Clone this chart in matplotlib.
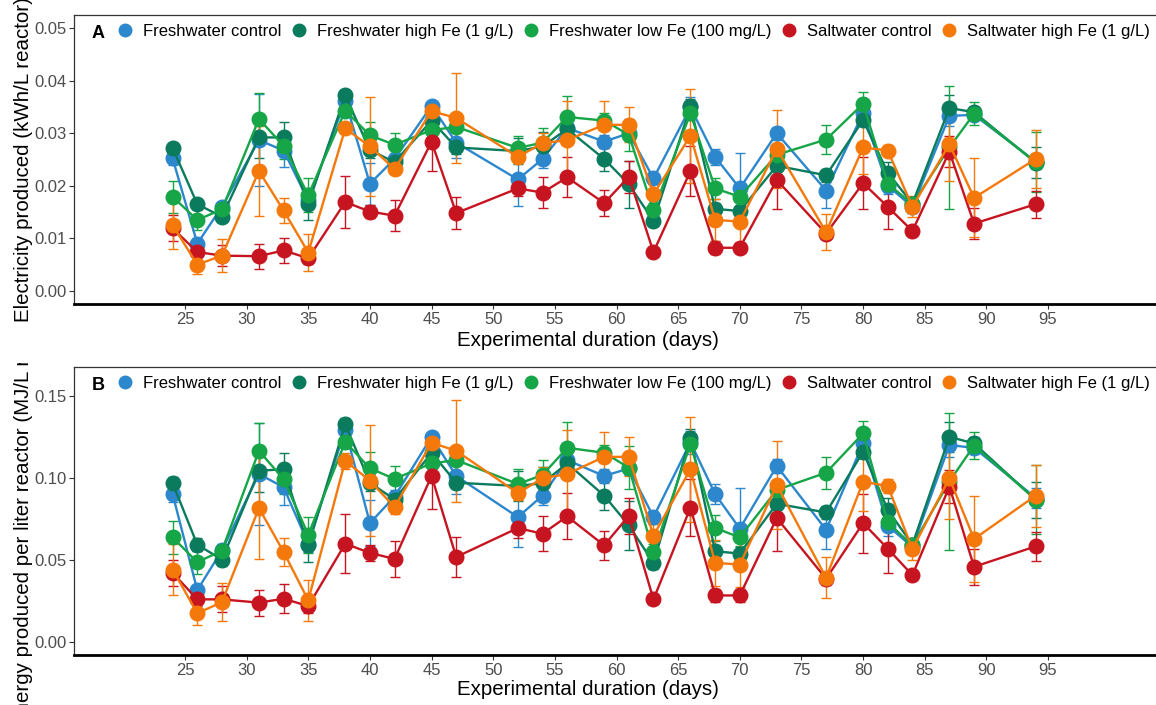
import matplotlib
matplotlib.use("Agg")
import matplotlib.pyplot as plt
from matplotlib.lines import Line2D
from matplotlib.transforms import Bbox, TransformedBbox

plt.rcParams['font.family'] = ['Liberation Sans', 'DejaVu Sans']

days = [24, 26, 28, 31, 33, 35, 38, 40, 42, 45, 47, 52, 54, 56, 59, 61,
        63, 66, 68, 70, 73, 77, 80, 82, 84, 87, 89, 94]

series_names = ["Freshwater control", "Freshwater high Fe (1 g/L)",
                "Freshwater low Fe (100 mg/L)", "Saltwater control",
                "Saltwater high Fe (1 g/L)"]
colors = ["#2C87CD", "#0A7B5C", "#16A547", "#C61420", "#F5780A"]

# panel A: electricity (kWh/L reactor)
fw_ctrl_kwh = [0.0252, 0.0090, 0.0160, 0.0287, 0.0267, 0.0172, 0.0362, 0.0204, 0.0251, 0.0352, 0.0282, 0.0212, 0.0251, 0.0310,
               0.0284, 0.0300, 0.0214, 0.0349, 0.0255, 0.0195, 0.0300, 0.0191, 0.0338, 0.0200, 0.0160, 0.0333, 0.0335, 0.0246]
fw_high_kwh = [0.0272, 0.0165, 0.0141, 0.0292, 0.0292, 0.0165, 0.0372, 0.0268, 0.0245, 0.0324, 0.0273, 0.0266, 0.0275, 0.0308,
               0.0251, 0.0203, 0.0133, 0.0351, 0.0156, 0.0152, 0.0238, 0.0220, 0.0325, 0.0225, 0.0166, 0.0348, 0.0340, 0.0244]
fw_low_kwh = [0.0179, 0.0135, 0.0155, 0.0327, 0.0276, 0.0182, 0.0343, 0.0296, 0.0278, 0.0306, 0.0312, 0.0272, 0.0282, 0.0331,
              0.0324, 0.0297, 0.0153, 0.0338, 0.0195, 0.0179, 0.0259, 0.0288, 0.0356, 0.0204, 0.0165, 0.0273, 0.0337, 0.0245]
sw_ctrl_kwh = [0.0119, 0.0074, 0.0067, 0.0066, 0.0077, 0.0062, 0.0169, 0.0151, 0.0143, 0.0284, 0.0148, 0.0195, 0.0187, 0.0216,
               0.0167, 0.0217, 0.0074, 0.0228, 0.0082, 0.0082, 0.0211, 0.0109, 0.0205, 0.0160, 0.0114, 0.0265, 0.0128, 0.0165]
sw_high_kwh = [0.0125, 0.0050, 0.0067, 0.0228, 0.0153, 0.0073, 0.0309, 0.0275, 0.0232, 0.0342, 0.0329, 0.0255, 0.0281, 0.0287,
               0.0316, 0.0316, 0.0184, 0.0295, 0.0135, 0.0132, 0.0270, 0.0112, 0.0273, 0.0267, 0.0160, 0.0279, 0.0177, 0.0251]

fw_ctrl_kwh_err = [0.0012, 0.0010, 0.0010, 0.0087, 0.0032, 0.0015, 0.0010, 0.0040, 0.0012, 0.0008, 0.0030, 0.0050, 0.0018, 0.0010,
                   0.0012, 0.0010, 0.0010, 0.0020, 0.0015, 0.0067, 0.0012, 0.0033, 0.0012, 0.0015, 0.0012, 0.0020, 0.0010, 0.0015]
fw_high_kwh_err = [0.0010, 0.0010, 0.0010, 0.0040, 0.0030, 0.0030, 0.0010, 0.0015, 0.0012, 0.0015, 0.0012, 0.0025, 0.0028, 0.0020,
                   0.0023, 0.0045, 0.0010, 0.0015, 0.0012, 0.0010, 0.0015, 0.0012, 0.0010, 0.0020, 0.0010, 0.0025, 0.0010, 0.0030]
fw_low_kwh_err = [0.0030, 0.0020, 0.0012, 0.0050, 0.0025, 0.0032, 0.0010, 0.0026, 0.0022, 0.0015, 0.0020, 0.0023, 0.0028, 0.0040,
                  0.0015, 0.0030, 0.0015, 0.0012, 0.0020, 0.0015, 0.0015, 0.0027, 0.0022, 0.0015, 0.0012, 0.0117, 0.0022, 0.0057]
sw_ctrl_kwh_err = [0.0025, 0.0010, 0.0020, 0.0024, 0.0024, 0.0010, 0.0050, 0.0012, 0.0030, 0.0055, 0.0030, 0.0015, 0.0030, 0.0038,
                   0.0025, 0.0030, 0.0008, 0.0047, 0.0012, 0.0010, 0.0055, 0.0010, 0.0050, 0.0042, 0.0008, 0.0030, 0.0030, 0.0026]
sw_high_kwh_err = [0.0045, 0.0017, 0.0032, 0.0085, 0.0024, 0.0035, 0.0010, 0.0094, 0.0010, 0.0010, 0.0085, 0.0012, 0.0020, 0.0075,
                   0.0045, 0.0033, 0.0020, 0.0090, 0.0040, 0.0040, 0.0075, 0.0035, 0.0050, 0.0010, 0.0020, 0.0070, 0.0075, 0.0055]

# panel B: energy (MJ/L reactor)
fw_ctrl_mj = [0.0903, 0.0316, 0.0560, 0.1026, 0.0945, 0.0600, 0.1298, 0.0726, 0.0888, 0.1253, 0.1014, 0.0763, 0.0894, 0.1111,
              0.1014, 0.1060, 0.0763, 0.1220, 0.0903, 0.0692, 0.1075, 0.0685, 0.1213, 0.0710, 0.0580, 0.1203, 0.1186, 0.0880]
fw_high_mj = [0.0970, 0.0594, 0.0503, 0.1046, 0.1055, 0.0590, 0.1330, 0.0973, 0.0870, 0.1156, 0.0973, 0.0953, 0.0970, 0.1091,
              0.0894, 0.0712, 0.0483, 0.1249, 0.0554, 0.0540, 0.0844, 0.0791, 0.1162, 0.0807, 0.0595, 0.1253, 0.1213, 0.0868]
fw_low_mj = [0.0639, 0.0487, 0.0558, 0.1168, 0.0994, 0.0655, 0.1223, 0.1061, 0.0996, 0.1091, 0.1111, 0.0965, 0.1020, 0.1186,
             0.1156, 0.1065, 0.0547, 0.1209, 0.0696, 0.0639, 0.0929, 0.1034, 0.1274, 0.0730, 0.0590, 0.0980, 0.1200, 0.0870]
sw_ctrl_mj = [0.0422, 0.0260, 0.0260, 0.0240, 0.0264, 0.0219, 0.0600, 0.0544, 0.0507, 0.1014, 0.0519, 0.0696, 0.0661, 0.0767,
              0.0590, 0.0771, 0.0260, 0.0821, 0.0284, 0.0284, 0.0757, 0.0386, 0.0726, 0.0570, 0.0408, 0.0949, 0.0459, 0.0584]
sw_high_mj = [0.0442, 0.0175, 0.0243, 0.0818, 0.0550, 0.0254, 0.1107, 0.0985, 0.0824, 0.1217, 0.1168, 0.0909, 0.1000, 0.1026,
              0.1131, 0.1131, 0.0649, 0.1055, 0.0483, 0.0473, 0.0959, 0.0392, 0.0979, 0.0953, 0.0568, 0.1000, 0.0629, 0.0894]

fw_ctrl_mj_err = [0.005, 0.003, 0.003, 0.031, 0.011, 0.005, 0.003, 0.014, 0.004, 0.003, 0.011, 0.018, 0.006, 0.004,
                  0.004, 0.004, 0.004, 0.007, 0.006, 0.025, 0.004, 0.012, 0.004, 0.006, 0.004, 0.007, 0.004, 0.006]
fw_high_mj_err = [0.004, 0.004, 0.004, 0.013, 0.010, 0.010, 0.004, 0.005, 0.004, 0.005, 0.004, 0.009, 0.010, 0.007,
                  0.009, 0.015, 0.004, 0.005, 0.004, 0.004, 0.005, 0.004, 0.004, 0.007, 0.004, 0.009, 0.004, 0.011]
fw_low_mj_err = [0.010, 0.007, 0.004, 0.017, 0.009, 0.011, 0.004, 0.010, 0.008, 0.005, 0.007, 0.009, 0.009, 0.0155,
                 0.005, 0.013, 0.005, 0.004, 0.008, 0.005, 0.005, 0.0097, 0.0075, 0.005, 0.004, 0.042, 0.008, 0.021]
sw_ctrl_mj_err = [0.008, 0.004, 0.008, 0.008, 0.0087, 0.004, 0.018, 0.005, 0.011, 0.020, 0.012, 0.006, 0.0106, 0.014,
                  0.009, 0.011, 0.003, 0.0176, 0.004, 0.004, 0.020, 0.004, 0.018, 0.015, 0.003, 0.010, 0.011, 0.009]
sw_high_mj_err = [0.0155, 0.0073, 0.0118, 0.031, 0.0085, 0.0127, 0.005, 0.034, 0.004, 0.004, 0.031, 0.004, 0.007, 0.027,
                  0.0153, 0.012, 0.007, 0.032, 0.014, 0.014, 0.027, 0.0126, 0.018, 0.004, 0.007, 0.025, 0.0265, 0.019]

xticks = list(range(25, 100, 5))


def draw_panel(ax, means, errs, tag, ylim, yticks, ylabel, xlab_y):
    for m, e, c in zip(means, errs, colors):
        ax.errorbar(days, m, yerr=e, color=c, lw=1.7, marker='o', ms=10.5,
                    elinewidth=1.0, capsize=3.5, capthick=1.0, ecolor=c, zorder=3)
    ax.set_xlim(16, 104)
    ax.set_ylim(*ylim)
    ax.set_xticks(xticks)
    ax.set_yticks(yticks)
    ax.set_yticklabels([f"{v:.2f}" for v in yticks])
    ax.tick_params(axis='both', labelsize=12, labelcolor='#4D4D4D', color='#333333',
                   length=3.5, width=0.8, pad=2)
    for s in ['top', 'left', 'right']:
        ax.spines[s].set_color('#333333')
        ax.spines[s].set_linewidth(0.9)
    ax.spines['bottom'].set_color('black')
    ax.spines['bottom'].set_linewidth(2.0)
    ax.set_xlabel("Experimental duration (days)", fontsize=14.8)
    ax.xaxis.set_label_coords(0.474, xlab_y)
    ax.set_ylabel(ylabel, fontsize=14.8)
    ax.yaxis.set_label_coords(-0.0378, 0.5)
    ax.text(0.0166, 0.935, tag, transform=ax.transAxes, fontsize=13,
            fontweight='bold', va='center', ha='left')
    handles = [Line2D([], [], marker='o', ls='none', color=c, ms=9) for c in colors]
    ax.legend(handles, series_names, loc='upper left', bbox_to_anchor=(0.0309, 1.0),
              ncol=5, frameon=False, fontsize=12, handlelength=1.0,
              handletextpad=0.58, columnspacing=0.55, borderpad=0.55, borderaxespad=0)


fig = plt.figure(figsize=(11.56, 7.05), dpi=100)
axA = fig.add_axes([74 / 1156, 1 - 304 / 705, 1085 / 1156, 289 / 705])
axB = fig.add_axes([74 / 1156, 1 - 655 / 705, 1085 / 1156, 288 / 705])

draw_panel(axA,
           [fw_ctrl_kwh, fw_high_kwh, fw_low_kwh, sw_ctrl_kwh, sw_high_kwh],
           [fw_ctrl_kwh_err, fw_high_kwh_err, fw_low_kwh_err, sw_ctrl_kwh_err, sw_high_kwh_err],
           "A", (-0.0025, 0.0525), [0.00, 0.01, 0.02, 0.03, 0.04, 0.05],
           "Electricity produced (kWh/L reactor)", -0.095)
draw_panel(axB,
           [fw_ctrl_mj, fw_high_mj, fw_low_mj, sw_ctrl_mj, sw_high_mj],
           [fw_ctrl_mj_err, fw_high_mj_err, fw_low_mj_err, sw_ctrl_mj_err, sw_high_mj_err],
           "B", (-0.008, 0.168), [0.00, 0.05, 0.10, 0.15],
           "Energy produced per liter reactor (MJ/L reactor)", -0.088)

# each panel was its own image in the source, so the long y label of B is cut at the seam
seam = TransformedBbox(Bbox([[0, 0], [1, 1 - 363 / 705]]), fig.transFigure)
axB.yaxis.label.set_clip_box(seam)
axB.yaxis.label.set_clip_on(True)

fig.savefig("out.png", dpi=100)
